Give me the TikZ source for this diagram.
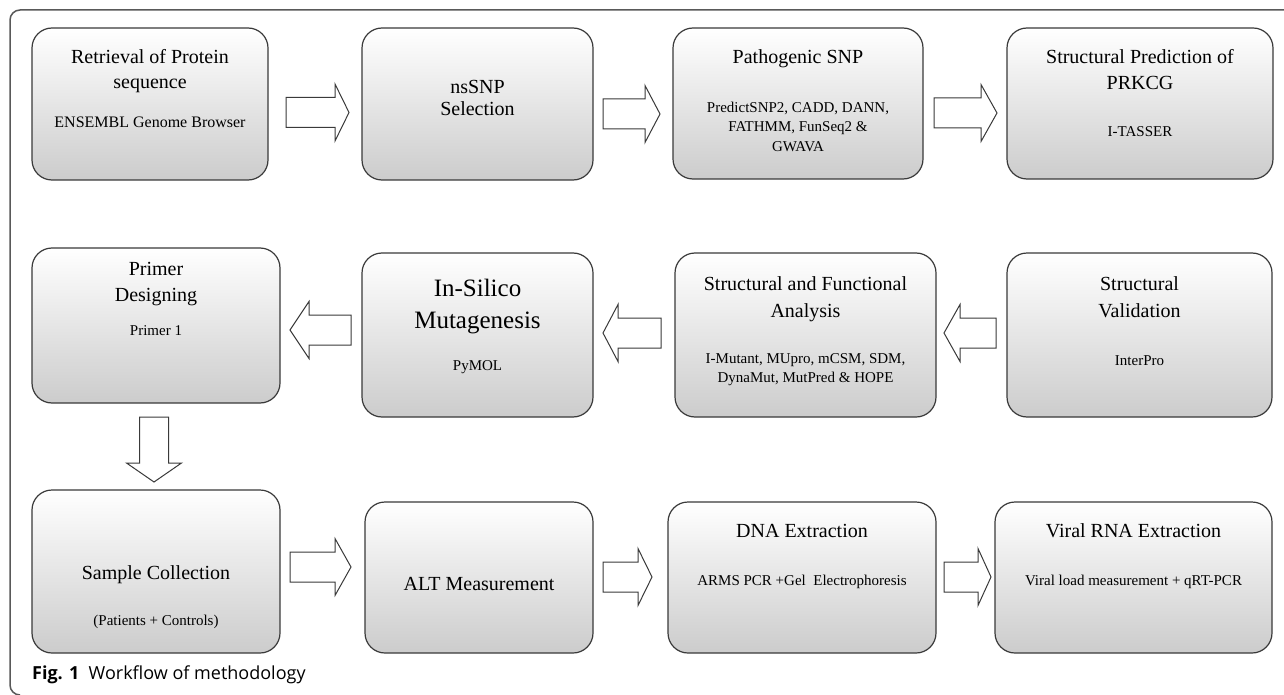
\documentclass[tikz,border=0pt]{standalone}
\usepackage{fontspec}
\setmainfont{Liberation Serif}
\newfontfamily\capfont{Open Sans}
\usetikzlibrary{calc}
\definecolor{edge}{HTML}{3A3A3A}
\tikzset{
  stepbox/.style={draw=edge, line width=1.2pt, rounded corners=20pt, top color=white, bottom color=black!20, inner sep=0pt},
  ttl/.style={anchor=base, inner sep=0pt, font=\fontsize{20}{24}\selectfont, text=black},
  big/.style={anchor=base, inner sep=0pt, font=\fontsize{25}{30}\selectfont, text=black},
  sub/.style={anchor=base, inner sep=0pt, font=\fontsize{15}{18}\selectfont, text=black},
  blockarr/.style={draw=edge, line width=1pt, fill=white, line join=miter},
  frame/.style={draw=black!65, line width=1.5pt}
}
\newcommand{\harr}[4]{\draw[blockarr] (#1,#4-15) -- (#2,#4-15) -- (#2,#4-28.5) -- (#3,#4) -- (#2,#4+28.5) -- (#2,#4+15) -- (#1,#4+15) -- cycle;}
\begin{document}
\begin{tikzpicture}[x=1pt,y=-1pt]
\useasboundingbox (0,0) rectangle (1284,695);
\fill[white] (0,0) rectangle (1284,695);
% frame
\draw[frame] (1284,10) -- (20,10) arc[start angle=90, end angle=180, radius=10pt] -- (10,685) arc[start angle=180, end angle=270, radius=10pt];
% boxes
\node[stepbox, minimum width=236pt, minimum height=152pt] (b1) at (150,104) {};
\node[stepbox, minimum width=231pt, minimum height=152pt] (b2) at (477.5,104) {};
\node[stepbox, minimum width=250pt, minimum height=151pt] (b3) at (798,103.5) {};
\node[stepbox, minimum width=266pt, minimum height=151pt] (b4) at (1140,103.5) {};
\node[stepbox, minimum width=248pt, minimum height=155pt] (b5) at (156,325.5) {};
\node[stepbox, minimum width=231pt, minimum height=164pt] (b6) at (477.5,335) {};
\node[stepbox, minimum width=261pt, minimum height=164pt] (b7) at (805.5,335) {};
\node[stepbox, minimum width=265pt, minimum height=164pt] (b8) at (1139.5,335) {};
\node[stepbox, minimum width=248pt, minimum height=163pt] (b9) at (156,571.5) {};
\node[stepbox, minimum width=228pt, minimum height=151pt] (b10) at (479,577.5) {};
\node[stepbox, minimum width=268pt, minimum height=151pt] (b11) at (802,577.5) {};
\node[stepbox, minimum width=277pt, minimum height=151pt] (b12) at (1133.5,577.5) {};
% texts row 1
\node[ttl] (t1a) at (150,64) {Retrieval of Protein};
\node[ttl] (t1b) at (150,89) {sequence};
\node[sub, font=\fontsize{16}{18}\selectfont] (s1a) at (150,128) {ENSEMBL Genome Browser};
\node[ttl] (t2a) at (477.5,94) {nsSNP};
\node[ttl] (t2b) at (477.5,116) {Selection};
\node[ttl] (t3a) at (798,64) {Pathogenic SNP};
\node[sub] (s3a) at (798,112.5) {PredictSNP2, CADD, DANN,};
\node[sub] (s3b) at (798,132) {FATHMM, FunSeq2 \&};
\node[sub] (s3c) at (798,151.5) {GWAVA};
\node[ttl] (t4a) at (1140,64) {Structural Prediction of};
\node[ttl] (t4b) at (1140,90) {PRKCG};
\node[sub] (s4a) at (1140,137) {I-TASSER};
% row 2
\node[ttl] (t5a) at (156,275) {Primer};
\node[ttl] (t5b) at (156,301) {Designing};
\node[sub] (s5a) at (156,335) {Primer 1};
\node[big] (t6a) at (477.5,296) {In-Silico};
\node[big] (t6b) at (477.5,328) {Mutagenesis};
\node[sub] (s6a) at (477.5,370) {PyMOL};
\node[ttl] (t7a) at (805.5,290) {Structural and Functional};
\node[ttl] (t7b) at (805.5,317) {Analysis};
\node[sub] (s7a) at (805.5,363) {I-Mutant, MUpro, mCSM, SDM,};
\node[sub] (s7b) at (805.5,382) {DynaMut, MutPred \& HOPE};
\node[ttl] (t8a) at (1139.5,290) {Structural};
\node[ttl] (t8b) at (1139.5,317) {Validation};
\node[sub] (s8a) at (1139.5,365) {InterPro};
% row 3
\node[ttl] (t9a) at (156,579) {Sample Collection};
\node[sub] (s9a) at (156,625) {(Patients + Controls)};
\node[ttl] (t10a) at (479,590) {ALT Measurement};
\node[ttl] (t11a) at (802,537) {DNA Extraction};
\node[sub] (s11a) at (802,585) {ARMS PCR +Gel\ \ Electrophoresis};
\node[ttl] (t12a) at (1133.5,537) {Viral RNA Extraction};
\node[sub] (s12a) at (1133.5,585) {Viral load measurement\ + qRT-PCR};
% arrows
\harr{286}{335}{349}{112.5}
\harr{603}{645}{660}{114}
\harr{934}{981}{997}{113}
\harr{996}{960}{944}{333}
\harr{661}{618}{603}{333}
\harr{351}{309}{290}{330}
\draw[blockarr] (139.5,417) -- (139.5,463) -- (126.5,463) -- (154,482) -- (181.5,463) -- (168.5,463) -- (168.5,417) -- cycle;
\harr{290}{335}{351}{567}
\harr{603}{638}{652}{577}
\harr{944}{978}{991}{577}
% caption
\node[anchor=base west, inner sep=0pt, font=\capfont\fontsize{18}{21}\selectfont] (cap) at (32,679) {\textbf{Fig. 1}\ \ Workflow of methodology};
\end{tikzpicture}
\end{document}
